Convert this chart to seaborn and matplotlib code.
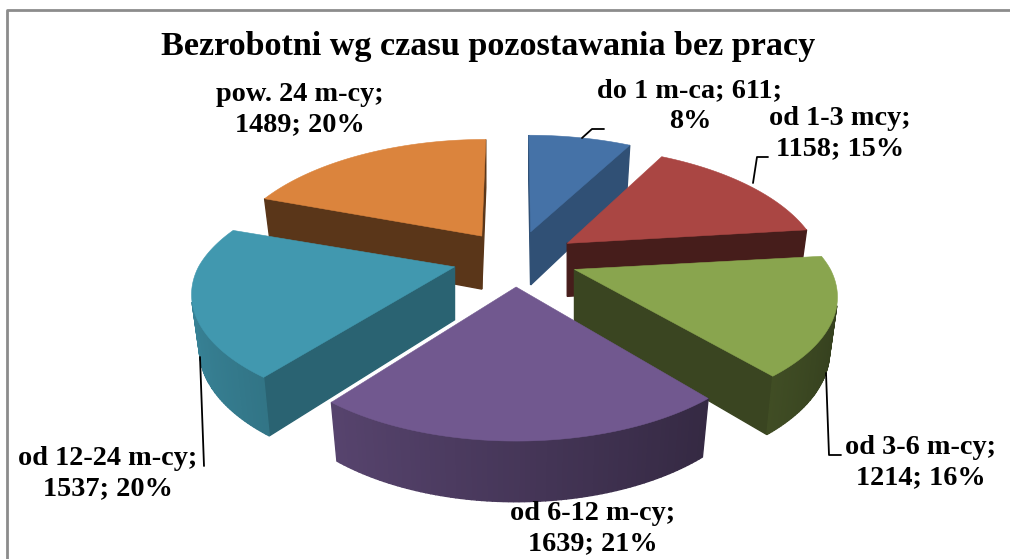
import numpy as np
import matplotlib
matplotlib.use('Agg')
import matplotlib.pyplot as plt
import seaborn as sns

# dane z wykresu
categories = ['do 1 m-ca', 'od 1-3 mcy', 'od 3-6 m-cy', 'od 6-12 m-cy', 'od 12-24 m-cy', 'pow. 24 m-cy']
values = [611, 1158, 1214, 1639, 1537, 1489]
percents = [8, 15, 16, 21, 20, 20]
title = 'Bezrobotni wg czasu pozostawania bez pracy'
hex_colors = ['#4572A7', '#AA4643', '#89A54E', '#71588F', '#4198AF', '#DB843D']

sns.set_theme(style='white')
plt.rcParams['font.family'] = ['Liberation Serif', 'DejaVu Serif']
palette = sns.color_palette(hex_colors)

# geometria "3D": srodek, wysuniecie, perspektywa (w pikselach)
CX, CY = 515, 259
EXPL_X, EXPL_Y = 63, 28
RADIUS_X = [250, 248, 256, 250, 256, 250]
RADIUS_Y = [118, 118, 115, 120, 115, 118]
NUDGE_X = [0, 0, 1, 0, 0, 3]
K = 0.221
SKEW = 0.12
DEPTH = 53
M_X, M_Y = 0.97, 1.05
WALL_SHADE = [0.70, 0.41, 0.42, 0.5, 0.65, 0.41]
DRAW_ORDER = [5, 0, 1, 4, 2, 3]

fig = plt.figure(figsize=(10.10, 5.59), dpi=100)
ax = fig.add_axes([0, 0, 1, 1])
ax.set_xlim(0, 1010)
ax.set_ylim(559, 0)
ax.axis('off')

# ramka wykresu
ax.plot([7, 7, 1010], [559, 10, 10], color='#8c8c8c', lw=2)


def rim(t, apex, a, b, bottom=False):
    x, y = np.sin(t), np.cos(t)
    s = 1 / (1 + K * y)
    dx, dy = a * x * s, -b * y * s
    # z przodu skos prawie niewidoczny
    skew = -(apex[0] - CX) * SKEW * np.where(y > 0, y, 0.3 * y)
    if bottom:
        return np.column_stack([apex[0] + skew + M_X * dx, apex[1] + DEPTH + M_Y * dy])
    return np.column_stack([apex[0] + skew + dx, apex[1] + dy])


def area(p):
    x, y = p[:, 0], p[:, 1]
    return 0.5 * np.sum(x * np.roll(y, -1) - np.roll(x, -1) * y)


def face(p, color):
    # tylko sciany widoczne od strony obserwatora
    if area(p) < -0.01:
        ax.fill(p[:, 0], p[:, 1], color=color, lw=1.0, zorder=2)


fractions = np.array(values) / np.sum(values)
edges = np.concatenate([[0], np.cumsum(fractions)]) * 2 * np.pi

for i in DRAW_ORDER:
    t0, t1 = edges[i], edges[i + 1]
    mid = (t0 + t1) / 2
    apex = (CX + EXPL_X * np.sin(mid) + NUDGE_X[i], CY - EXPL_Y * np.cos(mid))
    apex_bot = np.array([[apex[0], apex[1] + DEPTH]])
    apex_top = np.array([apex])
    ts = np.linspace(t0, t1, 80)
    top = rim(ts, apex, RADIUS_X[i], RADIUS_Y[i])
    bot = rim(ts, apex, RADIUS_X[i], RADIUS_Y[i], bottom=True)
    base = np.array(palette[i])

    wall = tuple(base * WALL_SHADE[i])
    face(np.vstack([apex_top, top[:1], bot[:1], apex_bot]), wall)
    face(np.vstack([top[-1:], apex_top, apex_bot, bot[-1:]]), wall)
    for j in range(len(ts) - 1):
        shade = 0.62 - 0.24 * np.sin((ts[j] + ts[j + 1]) / 2)
        face(np.vstack([top[j:j + 2], bot[j:j + 2][::-1]]), tuple(base * shade))
    poly = np.vstack([apex_top, top])
    ax.fill(poly[:, 0], poly[:, 1], color=tuple(base), lw=0.4, zorder=2)

# linie odniesienia
leaders = [
    ([582, 592, 604], [138, 129, 129]),
    ([753, 757, 768], [183, 157, 157]),
    ([826, 829, 841], [373, 455, 455]),
    ([200, 204], [357, 466]),
]
for lx, ly in leaders:
    ax.plot(lx, ly, color='black', lw=1.3, zorder=3)

# opisy
label_pos = [(690, 106), (840, 134), (921, 463), (593, 529), (108, 474), (300, 110)]
for i, (lx, ly) in enumerate(label_pos):
    if i == 0:
        txt = f'{categories[i]}; {values[i]};\n{percents[i]}%'
    else:
        txt = f'{categories[i]};\n{values[i]}; {percents[i]}%'
    ax.text(lx, ly, txt, ha='center', va='center', fontsize=20.3, fontweight='bold',
            color='black', linespacing=1.28, zorder=4)

ax.text(488, 47, title, ha='center', va='center', fontsize=24.6, fontweight='bold', color='black', zorder=4)

fig.savefig('out.png', dpi=100)
